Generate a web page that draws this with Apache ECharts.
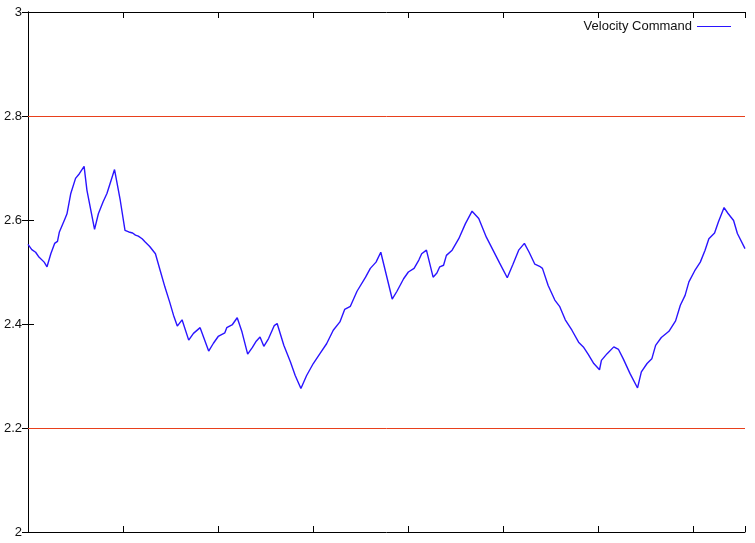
<!DOCTYPE html>
<html>
<head>
<meta charset="utf-8">
<script src="https://cdn.jsdelivr.net/npm/echarts@6/dist/echarts.min.js"></script>
<style>
  html, body { margin: 0; padding: 0; background: #fff; }
  #main { width: 755px; height: 543px; }
</style>
</head>
<body>
<div id="main"></div>
<script>
// 数据
const seriesName = "Velocity Command";
const xValues = [
  0, 4, 8, 11, 13, 17, 20, 24, 28, 31, 33, 39, 41, 45, 50, 54, 59, 62, 70, 74,
  79, 83, 91, 97, 102, 106, 110, 113, 116, 120, 123, 128, 134, 139, 144, 149, 153, 157, 162, 169,
  174, 181, 190, 195, 200, 207, 209, 215, 220, 225, 231, 236, 240, 244, 248, 253, 259, 262, 269, 276,
  281, 287, 293, 300, 307, 314, 321, 328, 333, 339, 346, 355, 360, 366, 371, 383, 388, 395, 400, 406,
  411, 414, 419, 426, 430, 433, 437, 440, 446, 453, 460, 467, 474, 482, 489, 496, 504, 510, 516, 522,
  527, 533, 538, 541, 547, 554, 559, 565, 572, 579, 584, 589, 595, 601, 603, 609, 616, 621, 626, 633,
  641, 645, 651, 656, 660, 666, 674, 681, 686, 691, 695, 701, 707, 712, 716, 722, 726, 732, 736, 742,
  746, 754
];
const velocity = [
  2.553, 2.543, 2.538, 2.530, 2.529, 2.519, 2.510, 2.535, 2.555, 2.559, 2.577, 2.603, 2.612, 2.651, 2.680, 2.689, 2.703, 2.657, 2.582, 2.612,
  2.635, 2.651, 2.697, 2.638, 2.580, 2.577, 2.575, 2.571, 2.569, 2.564, 2.558, 2.549, 2.535, 2.503, 2.471, 2.442, 2.417, 2.396, 2.408, 2.369,
  2.382, 2.393, 2.348, 2.363, 2.376, 2.383, 2.393, 2.399, 2.412, 2.385, 2.342, 2.355, 2.367, 2.375, 2.357, 2.372, 2.397, 2.401, 2.359, 2.327,
  2.301, 2.276, 2.301, 2.324, 2.343, 2.362, 2.388, 2.404, 2.428, 2.434, 2.463, 2.490, 2.507, 2.519, 2.538, 2.448, 2.463, 2.487, 2.500, 2.507,
  2.523, 2.535, 2.542, 2.490, 2.498, 2.510, 2.513, 2.532, 2.542, 2.564, 2.593, 2.617, 2.603, 2.567, 2.542, 2.517, 2.489, 2.515, 2.542, 2.555,
  2.538, 2.515, 2.511, 2.507, 2.474, 2.446, 2.434, 2.408, 2.388, 2.365, 2.356, 2.342, 2.324, 2.312, 2.330, 2.343, 2.356, 2.351, 2.333, 2.305,
  2.277, 2.308, 2.324, 2.333, 2.359, 2.374, 2.386, 2.406, 2.436, 2.455, 2.481, 2.502, 2.519, 2.542, 2.564, 2.575, 2.596, 2.624, 2.613, 2.599,
  2.574, 2.545
];
const limitHigh = 2.8; // 上限
const limitLow = 2.2;  // 下限
const yTicks = [2, 2.2, 2.4, 2.6, 2.8, 3];

const points = xValues.map((x, i) => [x, velocity[i]]);

const myChart = echarts.init(document.getElementById("main"));

const axisCommon = {
  type: "value",
  axisLine: { show: true, lineStyle: { color: "#000", width: 1 } },
  axisTick: { show: true, inside: true, length: 6, lineStyle: { color: "#000" } },
  splitLine: { show: false },
};

const option = {
  animation: false,
  backgroundColor: "#fff",
  grid: { left: 28, right: 10, top: 12, bottom: 11 },
  legend: {
    data: [seriesName],
    right: 19,
    top: 15,
    align: "right",
    icon: "rect",
    itemWidth: 34,
    itemHeight: 1,
    textStyle: { fontFamily: "Liberation Sans, Arial, sans-serif", fontSize: 13, color: "#111" },
  },
  xAxis: [
    Object.assign({}, axisCommon, {
      position: "bottom", min: 0, max: 754, interval: 100,
      axisLabel: { show: false },
    }),
    Object.assign({}, axisCommon, {
      position: "top", min: 0, max: 754, interval: 100,
      axisLabel: { show: false },
    }),
  ],
  yAxis: [
    Object.assign({}, axisCommon, {
      position: "left", min: yTicks[0], max: yTicks[yTicks.length - 1], interval: 0.2,
      axisLabel: {
        show: true, margin: 6, color: "#111", fontSize: 13,
        fontFamily: "Liberation Sans, Arial, sans-serif",
        formatter: (v) => String(Math.round(v * 10) / 10),
      },
    }),
    Object.assign({}, axisCommon, {
      position: "right", min: yTicks[0], max: yTicks[yTicks.length - 1], interval: 0.2,
      axisLabel: { show: false },
    }),
  ],
  series: [
    {
      name: seriesName,
      type: "line",
      data: points,
      symbol: "none",
      lineStyle: { color: "#2a14ff", width: 1.4 },
      itemStyle: { color: "#2a14ff" },
      markLine: {
        silent: true,
        symbol: ["none", "none"],
        label: { show: false },
        lineStyle: { color: "#e8401c", type: "solid", width: 1 },
        data: [{ yAxis: limitHigh }, { yAxis: limitLow }],
      },
    },
  ],
};

myChart.setOption(option);
</script>
</body>
</html>
